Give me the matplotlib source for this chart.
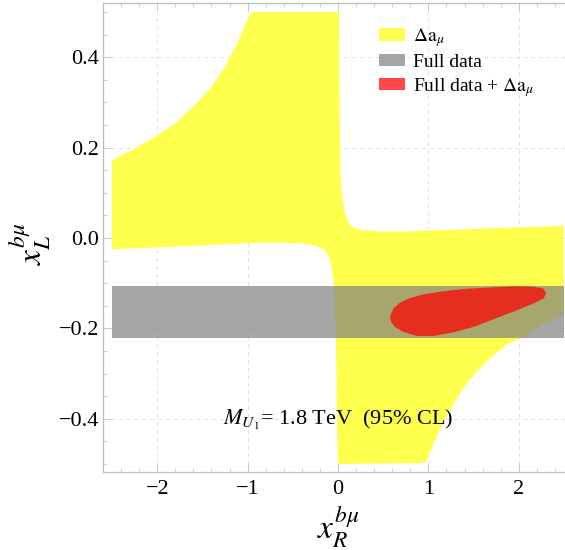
import matplotlib
matplotlib.use("Agg")
import matplotlib.pyplot as plt
from matplotlib.patches import Polygon, Rectangle, Patch
from matplotlib.ticker import MultipleLocator

plt.rcParams['font.family'] = ['Liberation Serif', 'DejaVu Serif']
plt.rcParams['mathtext.fontset'] = 'stix'

# Delta a_mu allowed region (boundary traced clockwise, x_R, x_L)
amu_xr = [-2.50, -2.285, -2.027, -1.805, -1.584, -1.399, -1.251, -1.122, -1.030, -0.956,
          0.012, 0.018, 0.025, 0.030, 0.040, 0.052, 0.078, 0.100, 0.133, 0.180, 0.244, 0.465, 0.687, 1.50, 2.50,
          2.50, 2.285, 2.05, 1.868, 1.647, 1.425, 1.24, 1.122, 1.030, 0.963,
          0.000, -0.008, -0.015, -0.022, -0.035, -0.045, -0.060, -0.075, -0.095, -0.125, -0.165, -0.260, -0.42, -0.753, -2.50]
amu_xl = [0.172, 0.194, 0.224, 0.253, 0.294, 0.334, 0.379, 0.427, 0.471, 0.500,
          0.500, 0.300, 0.180, 0.128, 0.104, 0.084, 0.055, 0.040, 0.029, 0.022, 0.018, 0.014, 0.014, 0.020, 0.027,
          -0.170, -0.190, -0.219, -0.236, -0.272, -0.321, -0.380, -0.425, -0.469, -0.498,
          -0.500, -0.450, -0.350, -0.220, -0.150, -0.108, -0.080, -0.060, -0.043, -0.032, -0.024, -0.016, -0.012, -0.010, -0.025]

# full data band
full_xr = [-2.5, 2.5]
full_xl = [-0.222, -0.106]

# full data + Delta a_mu region
comb_xr = [0.576, 0.612, 0.687, 0.797, 0.945, 1.13, 1.388, 1.647, 1.94, 2.163, 2.274, 2.303,
           2.274, 2.163, 1.979, 1.757, 1.498, 1.277, 1.055, 0.872, 0.723, 0.631, 0.587]
comb_xl = [-0.175, -0.156, -0.143, -0.133, -0.125, -0.119, -0.113, -0.110, -0.107, -0.108, -0.112, -0.123,
           -0.134, -0.145, -0.160, -0.177, -0.197, -0.209, -0.217, -0.217, -0.208, -0.197, -0.186]

labels = [r'$\Delta\mathrm{a}_{\mu}$', 'Full data', r'Full data + $\Delta\mathrm{a}_{\mu}$']
c_yellow = '#FFFF4D'
c_gray = '#7E7E7E'
c_red = '#FF0000'

fig = plt.figure(figsize=(5.65, 5.5), dpi=100)
ax = fig.add_axes([103/565, 78/550, 470/565, 469/550])

ax.add_patch(Polygon(list(zip(amu_xr, amu_xl)), closed=True, facecolor=c_yellow, edgecolor='none', zorder=2))
ax.add_patch(Rectangle((full_xr[0], full_xl[0]), full_xr[1] - full_xr[0], full_xl[1] - full_xl[0],
                       facecolor=c_gray, alpha=0.69, edgecolor='none', zorder=3))
ax.add_patch(Polygon(list(zip(comb_xr, comb_xl)), closed=True, facecolor=c_red, alpha=0.72, edgecolor='none', zorder=4))

ax.set_xlim(-2.6, 2.6)
ax.set_ylim(-0.518, 0.52)

ax.xaxis.set_major_locator(MultipleLocator(1))
ax.xaxis.set_minor_locator(MultipleLocator(0.2))
ax.yaxis.set_major_locator(MultipleLocator(0.2))
ax.yaxis.set_minor_locator(MultipleLocator(0.05))
ax.xaxis.set_major_formatter(lambda v, p: ('%d' % round(v)).replace('-', '\u2212'))
ax.yaxis.set_major_formatter(lambda v, p: ('%.1f' % v).replace('-', '\u2212'))

ax.grid(True, which='major', color='#E2E2E2', linestyle=(0, (4, 4)), linewidth=0.7, zorder=0)
ax.set_axisbelow(True)
for s in ax.spines.values():
    s.set_color('#BDBDBD')
    s.set_linewidth(0.9)
ax.tick_params(which='both', direction='in', top=True, right=True, color='#C8C8C8')
ax.tick_params(which='major', length=6, width=0.7, labelsize=16, pad=6)
ax.tick_params(which='minor', length=3, width=0.6)
ax.tick_params(axis='y', pad=3)

ax.set_xlabel(r'$x_R^{b\mu}$', fontsize=24)
ax.xaxis.set_label_coords(0.5, -0.119)
ax.xaxis.label.set_va('center')
ax.set_ylabel(r'$x_L^{b\mu}$', fontsize=24)
ax.yaxis.set_label_coords(-0.155, 0.486)
ax.yaxis.label.set_va('center')

ax.text(0.0, -0.402, r'$M_{U_1}$= 1.8 TeV  (95% CL)', fontsize=16, ha='center', va='center', zorder=5)

handles = [Patch(facecolor=c_yellow, edgecolor='none'),
           Patch(facecolor=c_gray, alpha=0.69, edgecolor='none'),
           Patch(facecolor=c_red, alpha=0.72, edgecolor='none')]
ax.legend(handles, labels, loc='upper left', bbox_to_anchor=(379/565, 1 - 26/550), bbox_transform=fig.transFigure,
          frameon=False, fontsize=14, borderpad=0, handlelength=1.34, handleheight=0.62,
          handletextpad=0.4, labelspacing=0.25, borderaxespad=0)

fig.savefig('out.png', dpi=100)
